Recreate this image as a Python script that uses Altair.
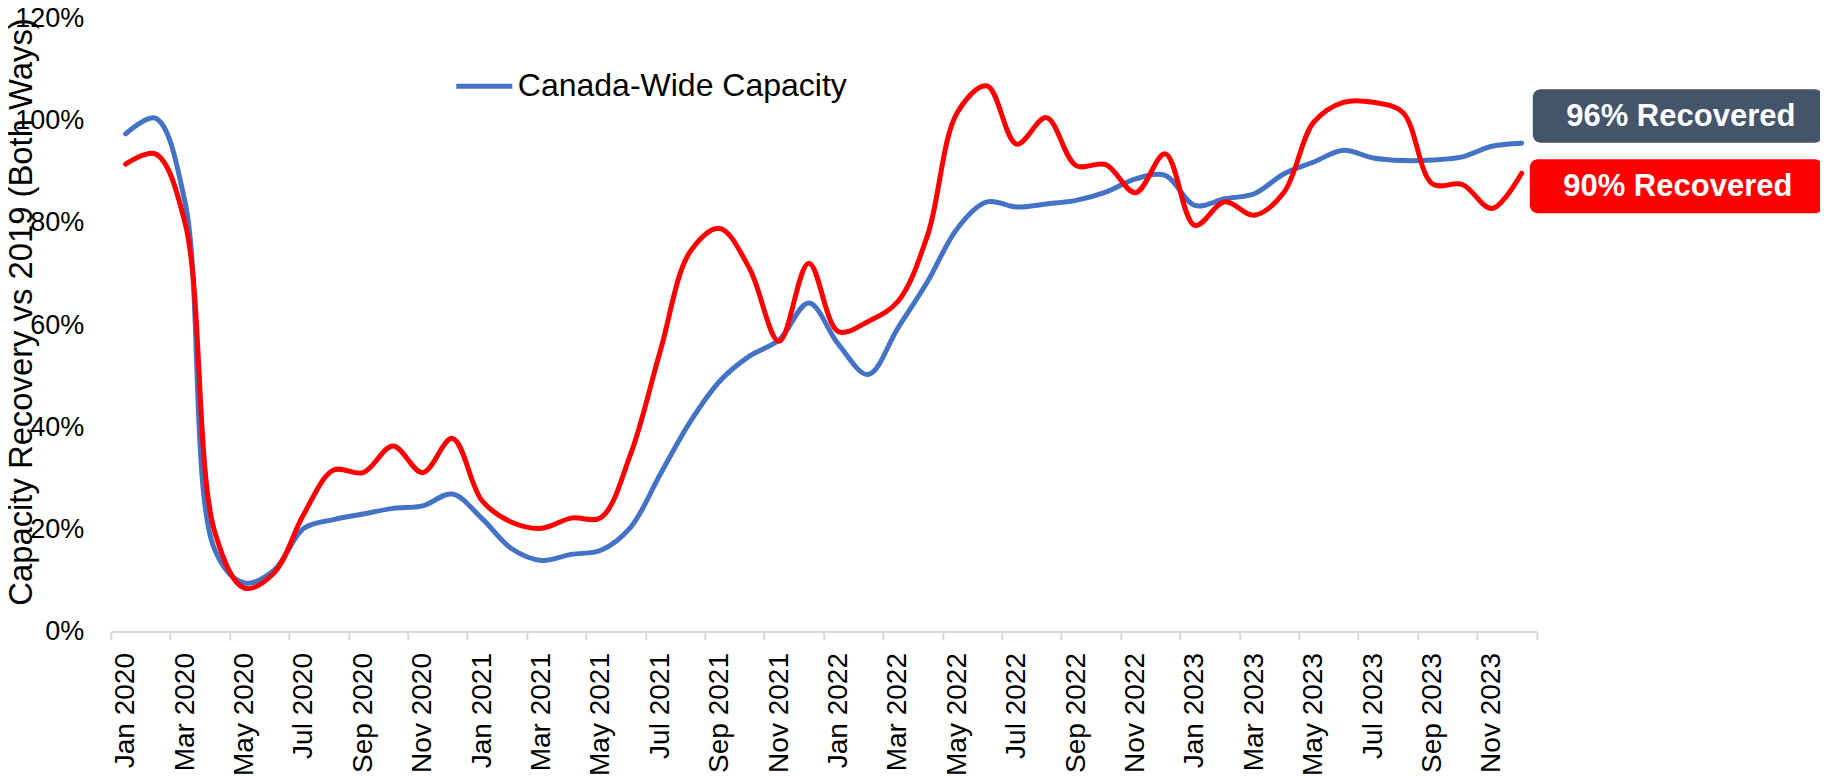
import altair as alt
import pandas as pd

month_names = ["Jan", "Feb", "Mar", "Apr", "May", "Jun",
               "Jul", "Aug", "Sep", "Oct", "Nov", "Dec"]
years = [2020, 2021, 2022, 2023]
months = [f"{m} {y}" for y in years for m in month_names]

series_names = ["Canada-Wide Capacity", "Comparison Capacity"]
series_colors = ["#4472C4", "#FF0000"]

canada_wide = [97.4, 100.5, 84.0, 16.0, 9.5, 12.0, 20.2, 21.9, 23.0, 24.1, 24.6, 26.9,
               22.1, 16.2, 13.9, 15.1, 15.9, 20.4, 30.8, 41.0, 49.0, 53.9, 57.1, 64.3,
               56.2, 50.3, 59.4, 68.5, 78.9, 84.1, 83.1, 83.7, 84.4, 86.0, 88.6, 89.3,
               83.4, 84.7, 85.7, 89.6, 91.9, 94.2, 92.7, 92.2, 92.3, 92.9, 95.0, 95.6]

comparison = [91.5, 93.5, 80.0, 19.5, 8.5, 11.5, 23.0, 31.6, 31.1, 36.3, 31.1, 37.8,
              25.6, 21.4, 20.2, 22.2, 22.3, 34.7, 54.9, 74.3, 78.9, 71.1, 56.8, 72.1,
              58.7, 60.7, 64.6, 77.6, 101.6, 106.8, 95.4, 100.6, 91.2, 91.4, 85.9, 93.5,
              79.5, 84.1, 81.5, 86.0, 99.7, 103.6, 103.6, 101.6, 87.6, 87.5, 82.8, 89.7]

y_ticks = [0, 20, 40, 60, 80, 100, 120]
badge_texts = ["96% Recovered", "90% Recovered"]
badge_colors = ["#44546A", "#FF0000"]

blue_df = pd.DataFrame({"idx": list(range(len(months))), "month": months,
                        "value": canada_wide, "series": series_names[0]})
red_df = pd.DataFrame({"idx": list(range(len(months))), "month": months,
                       "value": comparison, "series": series_names[1]})

W = 1425.7
H = 613.0
BW = W / len(months)
FONT = "Liberation Sans"

label_arr = "[" + ",".join(f"'{m}'" for m in months) + "]"

x_enc = alt.X(
    "idx:Q",
    title=None,
    scale=alt.Scale(domain=[-0.5, len(months) - 0.5], nice=False, zero=False),
    axis=alt.Axis(
        values=[i - 0.5 for i in range(0, len(months) + 1, 2)],
        labelExpr=f"{label_arr}[round(datum.value + 0.5)] || ''",
        labelAngle=270,
        labelOffset=BW / 2,
        labelPadding=13,
        labelFontSize=28,
        labelFont=FONT,
        labelColor="black",
        labelOverlap=False,
        labelFlush=False,
        labelBound=False,
        grid=False,
        domainColor="#D9D9D9",
        domainWidth=2,
        tickColor="#D9D9D9",
        tickWidth=2,
        tickSize=8,
    ),
)

y_enc = alt.Y(
    "value:Q",
    scale=alt.Scale(domain=[0, 120], nice=False, zero=True),
    axis=alt.Axis(
        values=y_ticks,
        labelExpr="datum.value + '%'",
        grid=False,
        domain=False,
        ticks=False,
        labelPadding=27,
        labelFontSize=27,
        labelFont=FONT,
        labelColor="black",
        title="Capacity Recovery vs 2019 (Both Ways)",
        titleFont=FONT,
        titleFontSize=32.8,
        titleFontWeight="normal",
        titleColor="black",
        titleAngle=270,
        titleAlign="center",
        titleBaseline="middle",
        titleX=-89,
        titleY=293,
    ),
)

color_enc = alt.Color(
    "series:N",
    scale=alt.Scale(domain=series_names, range=series_colors),
    legend=alt.Legend(
        title=None,
        orient="none",
        legendX=343,
        legendY=37.2,
        values=[series_names[0]],
        symbolType="stroke",
        symbolSize=3136,
        symbolStrokeWidth=5,
        labelFontSize=32,
        labelFont=FONT,
        labelColor="black",
        labelOffset=3,
        labelLimit=0,
        padding=0,
    ),
)

blue_line = alt.Chart(blue_df).mark_line(
    interpolate="catmull-rom", strokeWidth=5, strokeCap="round"
).encode(x=x_enc, y=y_enc, color=color_enc)

red_line = alt.Chart(red_df).mark_line(
    interpolate="catmull-rom", strokeWidth=5, strokeCap="round"
).encode(x=x_enc, y=y_enc, color=color_enc)

badge_df = pd.DataFrame({"text": badge_texts, "color": badge_colors})

box_blue = alt.Chart(badge_df.iloc[[0]]).mark_rect(cornerRadius=8).encode(
    x=alt.value(1422), x2=alt.value(1712), y=alt.value(70.8), y2=alt.value(124.2),
    color=alt.value(badge_colors[0]),
)
box_red = alt.Chart(badge_df.iloc[[1]]).mark_rect(cornerRadius=8).encode(
    x=alt.value(1419), x2=alt.value(1712), y=alt.value(140.8), y2=alt.value(194.8),
    color=alt.value(badge_colors[1]),
)
txt_blue = alt.Chart(badge_df.iloc[[0]]).mark_text(
    font=FONT, fontSize=31, fontWeight="bold", color="white", align="center", baseline="middle"
).encode(x=alt.value(1570), y=alt.value(98.2), text="text:N")
txt_red = alt.Chart(badge_df.iloc[[1]]).mark_text(
    font=FONT, fontSize=31, fontWeight="bold", color="white", align="center", baseline="middle"
).encode(x=alt.value(1567), y=alt.value(168.2), text="text:N")

chart = alt.layer(
    blue_line, red_line, box_blue, box_red, txt_blue, txt_red
).properties(
    width=W,
    height=H,
    autosize=alt.AutoSizeParams(type="none"),
    padding={"left": 102.8, "top": 10.5, "right": 283.5, "bottom": 146.5},
    background="white",
).configure_view(stroke=None)

chart.save("out.html", embed_options={"renderer": "svg", "actions": False})
